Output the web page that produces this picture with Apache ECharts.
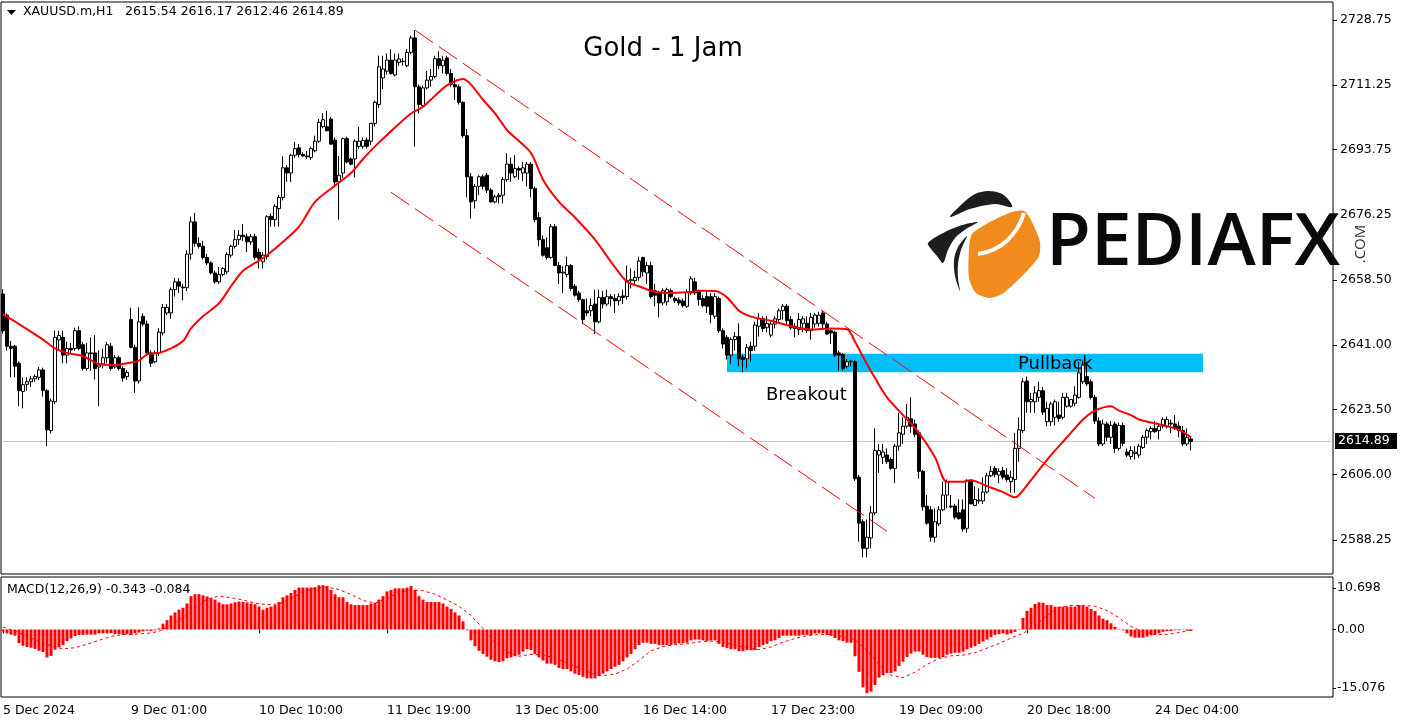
<!DOCTYPE html>
<html><head><meta charset="utf-8">
<script src="https://cdn.jsdelivr.net/npm/echarts@6/dist/echarts.min.js"></script>
<style>html,body{margin:0;padding:0;background:#fff}#c{width:1405px;height:725px}</style>
</head><body><div id="c"></div>
<script>
// ---------- DATA ----------
const symbolText = 'XAUUSD.m,H1';
const headerQuote = '2615.54 2616.17 2612.46 2614.89';
const macdHeader = 'MACD(12,26,9) -0.343 -0.084';
const titleText = 'Gold - 1 Jam';
const totalSlots = 333;
// hourly candles [open, high, low, close]
const candles = [
[2654.7,2656.0,2644.0,2644.8],[2649.0,2649.5,2639.4,2640.6],[2640.6,2642.0,2632.2,2640.0],[2640.6,2641.0,2632.2,2635.2],[2636.0,2636.5,2624.4,2628.6],
[2628.4,2632.2,2623.8,2630.2],[2630.3,2632.2,2628.6,2631.0],[2631.0,2632.6,2629.6,2631.8],[2631.8,2633.0,2631.0,2632.4],[2632.2,2635.0,2631.5,2634.2],
[2634.2,2634.8,2627.0,2628.6],[2628.6,2629.0,2613.6,2618.0],[2617.8,2626.5,2617.0,2625.8],[2625.6,2644.8,2625.0,2643.0],[2642.3,2644.8,2639.4,2643.5],
[2643.0,2644.8,2636.0,2638.2],[2638.2,2641.8,2636.0,2640.0],[2640.0,2641.5,2638.8,2639.6],[2640.0,2645.6,2639.4,2644.8],[2644.8,2646.0,2639.5,2640.0],
[2641.0,2641.8,2634.0,2634.6],[2634.6,2641.5,2634.0,2638.8],[2638.8,2643.0,2634.0,2638.6],[2638.8,2643.6,2631.6,2634.6],[2635.0,2639.5,2624.4,2635.5],
[2635.8,2640.0,2634.6,2637.5],[2637.5,2641.8,2636.0,2641.0],[2640.6,2641.5,2634.0,2634.6],[2635.0,2638.2,2634.6,2637.5],[2637.5,2638.0,2634.0,2634.6],
[2634.6,2635.2,2631.0,2632.0],[2632.4,2634.2,2631.5,2633.5],[2647.8,2651.0,2640.0,2640.3],[2640.3,2641.0,2628.0,2631.2],[2631.2,2651.1,2630.5,2647.2],
[2648.7,2649.5,2646.0,2646.6],[2646.6,2647.5,2638.0,2638.8],[2638.8,2639.5,2635.0,2636.0],[2636.4,2639.5,2636.0,2638.8],[2638.8,2645.5,2638.0,2644.4],
[2644.2,2652.0,2643.5,2651.1],[2649.6,2652.0,2649.0,2651.1],[2649.6,2656.5,2648.0,2655.9],[2655.9,2659.0,2654.0,2658.0],[2658.0,2659.0,2655.0,2656.8],
[2656.4,2657.5,2653.0,2656.6],[2656.4,2666.5,2655.5,2665.5],[2665.5,2675.6,2664.0,2674.2],[2674.2,2676.6,2667.5,2668.4],[2668.4,2670.0,2667.0,2667.6],
[2667.6,2669.0,2664.0,2664.6],[2664.6,2665.5,2662.5,2663.1],[2663.1,2663.5,2660.0,2660.4],[2660.4,2661.0,2657.5,2658.0],[2658.0,2662.0,2657.5,2660.0],
[2660.0,2662.0,2659.5,2661.6],[2660.7,2666.0,2660.0,2665.4],[2665.2,2668.0,2664.5,2667.6],[2667.6,2672.0,2667.0,2669.4],[2669.4,2672.0,2668.0,2670.6],
[2670.6,2673.6,2669.0,2670.2],[2670.2,2671.0,2666.0,2668.8],[2668.8,2671.0,2668.0,2670.2],[2670.2,2671.0,2664.0,2664.6],[2666.0,2667.0,2661.6,2664.3],
[2663.4,2666.0,2661.6,2665.2],[2664.8,2676.0,2664.0,2675.6],[2675.7,2676.5,2672.9,2674.8],[2674.8,2679.0,2672.9,2678.4],[2677.8,2681.5,2672.9,2680.8],
[2680.8,2691.9,2680.0,2688.8],[2688.8,2689.5,2685.0,2687.4],[2687.4,2692.6,2685.0,2692.2],[2692.2,2695.8,2691.5,2694.0],[2694.2,2695.2,2691.6,2692.4],
[2692.4,2693.0,2691.8,2692.0],[2692.0,2693.4,2691.2,2691.8],[2691.6,2694.5,2691.0,2694.0],[2693.4,2697.5,2693.0,2696.0],[2696.0,2702.0,2695.5,2701.1],
[2699.9,2703.6,2699.5,2701.8],[2699.9,2704.2,2698.8,2698.8],[2702.0,2702.5,2695.2,2695.2],[2696.3,2697.0,2683.8,2685.0],[2685.0,2692.0,2674.8,2686.8],
[2687.4,2697.0,2686.0,2696.7],[2696.7,2697.2,2690.0,2690.4],[2691.2,2691.6,2689.5,2689.8],[2691.2,2696.5,2686.2,2696.0],[2694.6,2699.9,2694.0,2696.0],
[2694.6,2697.0,2694.0,2696.2],[2696.3,2697.0,2694.0,2694.6],[2696.0,2701.0,2695.0,2700.8],[2700.8,2707.0,2700.0,2706.5],[2705.9,2719.1,2705.0,2716.1],
[2713.1,2719.1,2710.1,2715.5],[2714.9,2719.7,2714.0,2717.9],[2717.9,2720.9,2714.0,2714.3],[2713.9,2719.7,2713.5,2717.9],[2717.3,2719.7,2716.4,2718.2],
[2717.6,2718.5,2716.4,2717.5],[2716.4,2720.9,2716.0,2720.0],[2720.0,2724.5,2719.5,2723.9],[2723.9,2726.0,2694.5,2710.7],[2710.7,2711.3,2703.5,2705.9],
[2705.6,2711.0,2705.0,2710.4],[2710.4,2715.0,2710.0,2712.5],[2712.5,2715.5,2710.7,2713.5],[2713.5,2719.1,2713.0,2718.3],[2718.3,2720.3,2715.5,2716.4],
[2716.4,2719.1,2714.3,2717.9],[2718.5,2719.1,2713.7,2714.3],[2714.3,2715.5,2710.7,2711.3],[2711.3,2713.1,2707.1,2710.7],[2710.7,2711.3,2705.9,2706.5],
[2706.5,2706.8,2696.9,2697.5],[2697.5,2699.3,2680.8,2686.4],[2686.4,2687.4,2675.1,2679.6],[2679.9,2684.4,2677.8,2683.8],[2683.8,2686.8,2681.4,2686.4],
[2686.4,2687.0,2683.0,2683.8],[2686.8,2687.4,2682.0,2682.8],[2682.8,2683.3,2679.4,2679.6],[2679.6,2681.5,2679.2,2681.0],[2681.4,2682.0,2679.2,2681.0],
[2681.4,2686.3,2679.2,2685.6],[2685.6,2692.8,2685.0,2689.8],[2689.8,2691.6,2685.0,2687.4],[2686.4,2692.2,2686.0,2688.6],[2688.6,2689.2,2685.6,2688.2],
[2687.4,2690.4,2685.2,2688.8],[2687.4,2690.4,2683.8,2689.8],[2689.8,2690.4,2680.8,2683.2],[2683.2,2683.8,2674.2,2674.8],[2675.4,2676.8,2667.6,2669.4],
[2669.4,2670.6,2664.8,2665.2],[2667.2,2670.0,2664.0,2664.6],[2664.6,2673.6,2664.2,2672.9],[2672.9,2673.6,2662.2,2662.4],[2662.4,2663.4,2657.4,2660.4],
[2660.4,2662.2,2655.0,2660.6],[2660.0,2664.8,2659.2,2662.4],[2662.4,2662.8,2655.6,2656.2],[2656.8,2657.4,2654.0,2654.4],[2655.0,2655.6,2652.6,2653.2],
[2653.2,2653.5,2646.6,2647.8],[2650.2,2653.5,2648.7,2649.6],[2650.2,2653.5,2648.7,2651.6],[2652.0,2655.9,2643.9,2647.2],[2647.2,2655.9,2646.8,2653.8],
[2653.8,2655.6,2650.8,2652.0],[2652.0,2655.9,2651.4,2654.0],[2654.0,2654.7,2651.4,2653.5],[2653.5,2654.7,2649.6,2652.9],[2652.9,2654.9,2651.6,2654.0],
[2654.2,2655.9,2652.0,2653.8],[2654.0,2662.4,2653.2,2658.3],[2658.3,2661.6,2656.2,2658.6],[2658.3,2661.0,2657.4,2659.2],[2659.2,2664.8,2658.3,2663.6],
[2664.6,2664.8,2659.5,2660.7],[2660.4,2663.4,2657.4,2662.4],[2662.4,2663.4,2653.5,2654.0],[2655.6,2657.4,2651.4,2654.4],[2655.0,2655.6,2648.4,2652.3],
[2652.3,2656.2,2651.6,2655.6],[2652.6,2656.4,2651.6,2655.9],[2655.6,2656.2,2653.5,2654.0],[2653.5,2654.0,2652.3,2652.9],[2653.1,2653.8,2651.6,2652.3],
[2652.8,2653.5,2651.1,2651.6],[2651.4,2656.0,2651.0,2655.2],[2655.0,2659.5,2654.4,2658.8],[2658.0,2659.1,2654.4,2655.0],[2655.6,2655.9,2651.6,2653.2],
[2653.5,2654.4,2651.1,2651.6],[2654.0,2655.6,2649.6,2651.4],[2654.0,2655.0,2646.8,2649.2],[2648.7,2655.0,2648.0,2654.0],[2653.5,2654.0,2644.2,2644.8],
[2644.8,2645.4,2640.0,2641.2],[2643.0,2643.6,2637.0,2638.2],[2638.2,2643.0,2635.8,2642.4],[2642.4,2644.4,2639.4,2643.2],[2643.2,2646.8,2635.2,2637.2],
[2637.6,2638.2,2633.6,2637.0],[2637.2,2641.2,2634.6,2640.2],[2640.6,2641.8,2636.4,2639.4],[2640.6,2647.2,2639.4,2646.3],[2646.0,2649.6,2643.2,2648.0],
[2648.0,2648.7,2644.4,2645.4],[2645.6,2648.7,2644.4,2646.8],[2643.6,2647.2,2643.0,2646.6],[2646.6,2648.7,2645.4,2648.0],[2647.8,2650.8,2647.2,2650.2],
[2650.2,2652.0,2647.8,2651.4],[2651.4,2652.0,2646.6,2647.5],[2647.8,2648.7,2645.1,2645.6],[2646.0,2646.8,2643.0,2645.4],[2645.1,2649.6,2643.6,2647.8],
[2646.8,2648.7,2644.4,2648.0],[2646.8,2648.7,2644.2,2644.8],[2644.8,2649.6,2642.4,2648.4],[2646.6,2649.6,2645.6,2649.0],[2646.8,2649.9,2645.9,2649.0],
[2649.6,2650.2,2645.4,2646.6],[2646.6,2647.2,2643.6,2643.9],[2644.8,2645.4,2641.2,2644.2],[2644.4,2644.8,2637.6,2638.2],[2638.8,2639.4,2634.0,2638.2],
[2638.4,2638.8,2634.0,2634.6],[2635.2,2637.2,2634.6,2636.4],[2636.4,2637.0,2635.2,2636.6],[2636.4,2636.8,2604.2,2604.8],[2605.2,2605.8,2587.8,2592.8],
[2593.2,2593.8,2583.6,2586.0],[2586.0,2593.8,2583.6,2589.0],[2588.8,2597.4,2586.0,2595.6],[2595.6,2618.4,2595.0,2612.4],[2611.2,2614.2,2606.4,2612.4],
[2610.6,2614.2,2608.8,2612.0],[2611.2,2613.0,2608.8,2609.4],[2610.0,2610.6,2607.2,2607.6],[2607.6,2614.2,2603.6,2613.6],[2613.6,2622.6,2612.4,2617.2],
[2616.8,2621.4,2614.2,2619.0],[2619.0,2625.0,2618.4,2621.4],[2621.0,2626.8,2617.2,2619.0],[2619.6,2620.8,2616.0,2616.8],[2617.2,2617.8,2604.8,2606.8],
[2606.8,2607.2,2596.2,2597.2],[2597.4,2600.4,2592.4,2592.8],[2596.4,2597.4,2587.8,2589.0],[2589.0,2596.8,2587.6,2593.2],[2592.6,2597.4,2592.0,2596.4],
[2596.4,2604.0,2596.0,2600.4],[2600.4,2604.6,2596.8,2604.0],[2597.4,2600.4,2596.8,2597.2],[2597.4,2598.0,2593.8,2594.4],[2595.6,2599.2,2593.8,2594.0],
[2596.4,2599.2,2590.5,2591.2],[2591.4,2604.6,2590.2,2604.4],[2604.4,2604.6,2598.0,2598.0],[2597.6,2602.8,2597.4,2599.2],[2598.8,2602.2,2598.0,2599.0],
[2598.8,2605.2,2598.0,2601.2],[2601.2,2606.4,2600.8,2605.6],[2605.6,2608.2,2605.2,2606.8],[2607.6,2608.2,2605.2,2606.0],[2605.8,2607.6,2603.6,2606.8],
[2607.0,2608.0,2604.6,2605.2],[2605.8,2607.6,2604.0,2604.6],[2604.0,2607.0,2601.0,2605.2],[2604.6,2617.2,2601.0,2613.0],[2613.0,2621.4,2609.4,2618.0],
[2617.8,2631.9,2617.2,2631.0],[2631.2,2632.4,2622.6,2625.6],[2625.6,2628.0,2622.6,2626.2],[2625.6,2629.8,2622.6,2628.0],[2626.8,2631.0,2625.6,2628.6],
[2628.6,2629.6,2622.0,2622.8],[2620.2,2625.6,2619.0,2623.8],[2620.2,2625.6,2619.0,2625.0],[2621.4,2626.2,2619.2,2625.6],[2622.0,2625.6,2620.2,2621.1],
[2621.4,2628.0,2620.8,2626.8],[2624.4,2628.0,2624.0,2626.8],[2624.4,2626.2,2624.0,2626.2],[2625.2,2629.8,2624.4,2627.4],[2626.8,2636.4,2626.4,2633.4],
[2631.0,2636.7,2630.4,2635.5],[2632.4,2635.5,2629.8,2630.4],[2631.0,2631.6,2626.2,2626.8],[2626.8,2627.4,2619.6,2620.4],[2620.4,2621.4,2613.6,2614.2],
[2614.2,2620.8,2613.6,2619.6],[2619.6,2620.2,2615.0,2616.0],[2616.0,2620.4,2614.2,2619.2],[2619.6,2620.2,2611.8,2613.0],[2613.0,2620.0,2612.4,2619.2],
[2619.2,2620.0,2613.6,2614.4],[2612.0,2613.0,2610.6,2611.2],[2610.8,2613.6,2610.0,2612.4],[2611.6,2613.6,2610.0,2612.0],[2611.2,2614.2,2610.4,2613.6],
[2613.2,2616.6,2612.8,2616.0],[2616.0,2618.4,2614.2,2617.8],[2617.5,2619.0,2615.4,2618.4],[2618.4,2620.4,2617.2,2617.5],[2617.8,2619.6,2615.4,2619.0],
[2619.0,2621.4,2618.4,2620.8],[2619.0,2621.6,2618.4,2620.8],[2619.8,2620.8,2617.2,2619.6],[2619.6,2622.0,2618.0,2618.4],[2619.0,2620.2,2616.0,2617.8],
[2617.8,2619.0,2613.6,2614.2],[2614.2,2618.4,2613.6,2616.0],[2615.54,2616.17,2612.46,2614.89]
];
// moving average (read at bar indices)
const maIdx = [0,4,10,13,16,20,24,28,31,34,36,39,42,45,47,50,54,57,60,63,66,70,74,78,83,87,90,93,97,102,105,108,111,115,117,120,123,126,128,132,135,139,143,148,152,156,159,162,166,171,175,178,181,184,187,192,197,202,207,211,213,216,218,221,225,229,233,236,240,242,246,250,253,254,258,262,266,270,273,277,279,282,284,287,291,294,297];
const maVal = [2649.2,2646.6,2642.4,2640.0,2638.8,2637.9,2635.8,2635.5,2636.0,2636.7,2638.4,2638.8,2640.0,2642.0,2645.4,2648.7,2652.2,2656.8,2661.0,2663.1,2665.2,2668.8,2672.9,2679.6,2684.0,2687.4,2691.2,2694.6,2698.7,2703.5,2705.3,2708.3,2711.1,2712.8,2711.3,2707.2,2703.5,2699.0,2697.0,2692.8,2685.6,2679.6,2675.4,2669.4,2663.4,2658.0,2656.8,2655.6,2655.0,2655.2,2655.6,2655.5,2653.8,2650.2,2648.6,2647.5,2646.0,2645.1,2645.4,2645.2,2641.8,2635.8,2632.0,2626.8,2622.0,2617.2,2610.6,2604.0,2604.0,2604.4,2602.8,2601.2,2599.8,2600.4,2605.8,2611.2,2616.0,2620.8,2623.2,2624.4,2623.2,2622.0,2620.8,2620.0,2619.0,2618.0,2616.0];
// MACD histogram per bar
const macdHist = [
-0.5,-1.0,-1.3,-1.6,-3.5,-4.2,-4.5,-4.7,-5.0,-5.5,
-5.8,-7.2,-6.8,-5.2,-4.6,-4.0,-3.0,-2.3,-1.7,-1.4,
-1.4,-1.3,-1.3,-1.3,-1.0,-1.0,-1.0,-0.9,-1.2,-1.2,
-1.4,-1.2,-1.4,-1.0,-0.8,-0.5,-0.3,-0.4,-0.2,0.3,
1.5,2.4,3.6,4.4,5.1,5.6,6.7,8.6,9.1,9.1,
8.8,8.5,8.1,7.7,7.0,6.5,6.5,6.7,7.0,7.2,
7.1,7.0,6.7,6.5,5.9,5.1,5.6,5.9,6.3,7.1,
8.3,8.8,9.4,10.2,10.8,10.8,10.8,10.8,10.9,11.4,
11.4,11.2,10.2,9.1,8.3,8.3,7.1,6.5,6.3,6.3,
6.3,6.3,6.7,6.9,7.7,8.6,9.8,10.2,10.6,10.6,
10.6,10.8,11.2,10.2,8.6,7.7,7.1,7.1,7.1,7.1,
6.7,5.9,5.3,4.4,3.6,2.1,-0.2,-2.8,-4.3,-5.5,
-6.3,-7.0,-7.8,-8.2,-8.4,-8.2,-7.4,-7.2,-6.9,-6.5,
-5.7,-5.1,-5.3,-6.3,-7.2,-8.0,-8.8,-8.8,-9.1,-9.9,
-10.2,-10.2,-10.8,-11.4,-11.7,-12.2,-12.6,-12.6,-12.6,-12.0,
-11.4,-10.8,-10.2,-9.6,-9.1,-8.2,-7.2,-6.3,-5.1,-4.0,
-3.4,-3.4,-3.7,-3.7,-4.0,-4.0,-4.0,-4.0,-3.7,-3.6,
-3.5,-3.4,-2.8,-2.6,-2.6,-2.8,-3.0,-2.8,-2.8,-3.7,
-4.5,-4.8,-5.1,-5.1,-5.6,-5.6,-5.3,-5.3,-5.3,-4.5,
-4.0,-3.7,-3.0,-2.8,-2.2,-1.6,-1.6,-1.6,-1.6,-1.6,
-1.4,-1.4,-1.4,-1.0,-1.0,-1.0,-1.4,-1.6,-2.2,-2.8,
-3.0,-3.4,-3.4,-6.9,-10.9,-14.9,-16.4,-16.0,-14.3,-12.4,
-11.8,-11.2,-11.2,-10.8,-9.4,-8.3,-7.1,-6.2,-5.7,-5.7,
-6.5,-7.1,-7.3,-7.3,-7.3,-7.1,-6.5,-6.2,-6.0,-6.0,
-5.7,-5.1,-4.7,-4.3,-3.7,-3.1,-2.6,-2.0,-1.4,-1.2,
-1.0,-1.3,-1.0,-0.6,0.1,3.0,4.8,5.6,6.6,7.0,
6.9,6.3,6.3,5.9,5.9,5.9,5.9,5.9,5.9,6.3,
6.3,5.9,5.3,4.8,3.6,2.8,2.4,1.6,0.7,0.1,
-0.2,-1.0,-1.8,-2.1,-2.1,-2.1,-1.8,-1.5,-1.3,-1.0,
-0.6,-0.4,-0.4,-0.2,-0.2,-0.1,-0.3,-0.343
];
// MACD signal (read at bar indices)
const sigIdx = [0,3,6,9,12,15,18,21,24,27,30,33,36,39,42,45,48,51,54,57,60,63,66,69,72,75,78,81,84,87,90,93,96,99,102,105,108,111,114,117,120,123,126,129,132,135,138,141,144,147,150,153,156,159,162,165,168,171,174,177,180,183,186,189,192,195,198,201,204,207,210,213,216,219,222,225,228,231,234,237,240,243,246,249,252,255,258,261,264,267,270,273,276,279,282,285,288,291,294,297];
const sigVal = [0.6,-0.4,-1.8,-3.0,-4.2,-5.0,-4.7,-3.8,-2.8,-1.8,-1.3,-1.2,-1.0,-0.5,1.2,3.0,5.5,7.8,8.6,8.2,7.6,6.8,6.4,6.6,8.0,9.7,10.6,10.9,10.3,9.0,7.5,6.8,8.0,9.6,10.2,10.0,9.1,7.6,6.0,3.6,0.3,-3.4,-5.8,-6.9,-6.4,-6.6,-7.4,-8.6,-9.9,-11.2,-11.9,-11.5,-10.2,-8.0,-5.5,-4.4,-3.9,-3.7,-3.2,-3.0,-3.3,-4.0,-4.8,-5.2,-4.5,-3.3,-2.3,-1.6,-1.3,-1.3,-1.8,-2.6,-5.4,-9.0,-11.8,-12.4,-11.0,-9.0,-7.5,-6.8,-6.6,-6.0,-4.8,-3.6,-2.2,-1.0,1.0,3.6,5.6,6.2,6.2,6.0,4.9,3.0,0.8,-0.6,-1.3,-1.3,-0.8,-0.084];
const timeTickIdx = [0,32,64,96,128,160,192,224,256,288];
const timeTickLabels = ['5 Dec 2024','9 Dec 01:00','10 Dec 10:00','11 Dec 19:00','13 Dec 05:00','16 Dec 14:00','17 Dec 23:00','19 Dec 09:00','20 Dec 18:00','24 Dec 04:00'];
const priceTicks = [2588.25,2606.00,2623.50,2641.00,2658.50,2676.25,2693.75,2711.25,2728.75];
const macdTicks = [10.698,0,-15.076];
const macdTickLabels = ['10.698','0.00','-15.076'];
const lastPrice = 2614.89;
const upperChannel = [[103,2726.0],[273,2599.5]];
const lowerChannel = [[97,2682.2],[221,2590.6]];
const zoneIdx = [181,300];
const zonePrice = [2638.55,2633.6];

// ---------- CHART ----------
const FONT = 'DejaVu Sans';
const cats = Array.from({length: totalSlots}, (_, i) => String(i));
const tickSet = new Set(timeTickIdx);
const labelMap = {};
timeTickIdx.forEach((k, j) => labelMap[k] = timeTickLabels[j]);

const chart = echarts.init(document.getElementById('c'), null, {renderer: 'canvas'});
const option = {
  animation: false,
  backgroundColor: '#ffffff',
  grid: [
    {left: 1, right: 72, top: 2, height: 572, show: true, borderColor: '#000', borderWidth: 1},
    {left: 1, right: 72, top: 577, height: 120, show: true, borderColor: '#000', borderWidth: 1}
  ],
  xAxis: [
    {type: 'category', gridIndex: 0, data: cats, boundaryGap: true,
     axisLine: {show: false}, axisTick: {show: false}, axisLabel: {show: false}, splitLine: {show: false}},
    {type: 'category', gridIndex: 1, data: cats, boundaryGap: true,
     axisLine: {show: false},
     axisTick: {show: true, alignWithLabel: true, interval: (i) => tickSet.has(i), length: 4, lineStyle: {color: '#000'}},
     axisLabel: {interval: (i) => tickSet.has(i), formatter: (v) => labelMap[+v] || '', align: 'left',
                 color: '#000', fontSize: 12.5, fontFamily: FONT, margin: 7},
     splitLine: {show: false}}
  ],
  yAxis: [
    {type: 'value', gridIndex: 0, position: 'right', min: 2579.06, max: 2733.61,
     axisLine: {show: false}, splitLine: {show: false},
     axisTick: {show: true, length: 4, customValues: priceTicks, lineStyle: {color: '#000'}},
     axisLabel: {customValues: priceTicks, formatter: (v) => v.toFixed(2), color: '#000', fontSize: 12.5, fontFamily: FONT, margin: 7}},
    {type: 'value', gridIndex: 1, position: 'right', min: -17.40, max: 13.53,
     axisLine: {show: false}, splitLine: {show: false},
     axisTick: {show: true, length: 3, customValues: macdTicks, lineStyle: {color: '#000'}},
     axisLabel: {customValues: macdTicks, color: '#000', fontSize: 12.5, fontFamily: FONT, margin: 4,
       formatter: (v) => { let b = 0; macdTicks.forEach((t, k) => { if (Math.abs(t - v) < Math.abs(macdTicks[b] - v)) b = k; }); return macdTickLabels[b]; }}}
  ],
  series: [
    {type: 'line', xAxisIndex: 0, yAxisIndex: 0, z: 1, silent: true, showSymbol: false,
     data: [[0, lastPrice], [totalSlots - 1, lastPrice]], lineStyle: {color: '#c0c0c0', width: 1}},
    {type: 'candlestick', xAxisIndex: 0, yAxisIndex: 0, z: 2, barWidth: 3,
     data: candles.map(c => [c[0], c[3], c[2], c[1]]),
     itemStyle: {color: '#ffffff', color0: '#000000', borderColor: '#000000', borderColor0: '#000000', borderWidth: 1},
     markArea: {silent: true, itemStyle: {color: '#00bfff'},
       data: [[{xAxis: String(zoneIdx[0]), yAxis: zonePrice[0]}, {xAxis: String(zoneIdx[1]), yAxis: zonePrice[1]}]]}},
    {type: 'line', xAxisIndex: 0, yAxisIndex: 0, z: 3, silent: true, showSymbol: false,
     data: upperChannel, lineStyle: {color: '#ff0000', width: 1, type: [22, 7]}},
    {type: 'line', xAxisIndex: 0, yAxisIndex: 0, z: 3, silent: true, showSymbol: false,
     data: lowerChannel, lineStyle: {color: '#ff0000', width: 1, type: [22, 7]}},
    {type: 'line', xAxisIndex: 0, yAxisIndex: 0, z: 4, silent: true, showSymbol: false, smooth: 0.3,
     data: maIdx.map((x, k) => [x, maVal[k]]), lineStyle: {color: '#ff0000', width: 2}},
    {type: 'bar', xAxisIndex: 1, yAxisIndex: 1, barWidth: 3, silent: true,
     data: macdHist, itemStyle: {color: '#ff0000'}},
    {type: 'line', xAxisIndex: 1, yAxisIndex: 1, z: 4, silent: true, showSymbol: false,
     data: sigIdx.map((x, k) => [x, sigVal[k]]), lineStyle: {color: '#ff0000', width: 1, type: [3, 3]}}
  ]
};
chart.setOption(option);

const tagY = Math.round(chart.convertToPixel({yAxisIndex: 0}, lastPrice));
const txt = (x, y, text, size, extra) => Object.assign({type: 'text', x: x, y: y, z: 100, silent: true,
  style: Object.assign({text: text, fontSize: size, fontFamily: FONT, fill: '#000', align: 'left', verticalAlign: 'middle',
    textAlign: 'left', textVerticalAlign: 'middle'}, extra || {})});
const poly = (pts, fill, smooth) => ({type: 'polygon', z: 100, silent: true, shape: {points: pts, smooth: smooth || 0}, style: {fill: fill}});
chart.setOption({
  graphic: [
    poly([[7, 10], [16, 10], [11.5, 15]], '#000'),
    txt(23, 12, symbolText, 12.5),
    txt(125, 12, headerQuote, 12.5),
    txt(7, 590, macdHeader, 12.5),
    txt(663, 49, titleText, 26, {align: 'center', textAlign: 'center'}),
    txt(766, 395, 'Breakout', 18),
    txt(1018, 364, 'Pullback', 18),
    // logo
    poly([[950,217],[962,204],[975,194],[988,191],[1000,193],[1008,199],[1012,207],[995,204],[970,209]], '#1d1d1f', 0.3),
    poly([[928,243],[945,232],[962,225],[978,222],[966,229],[955,238],[948,250],[943,263],[937,256],[931,249]], '#1d1d1f', 0.3),
    poly([[967,236],[958,247],[954,260],[955,276],[960,291],[958,278],[958,264],[961,250]], '#1d1d1f', 0.3),
    poly([[972,234],[990,222],[1012,212],[1024,211],[1031,220],[1040,242],[1038,258],[1005,292],[990,298],[976,293],[969,278],[969,250]], '#f28b1e', 0.25),
    {type: 'bezierCurve', z: 101, silent: true, shape: {x1: 978, y1: 254, cpx1: 1000, cpy1: 251, cpx2: 1017, cpy2: 236, x2: 1024, y2: 213},
     style: {fill: null, stroke: '#ffffff', lineWidth: 4}},
    txt(1046, 244, 'PEDIAFX', 73, {fontFamily: 'Open Sans', fontWeight: 600, fill: '#0a0a0a'}),
    {type: 'text', x: 1361, y: 244, z: 100, rotation: Math.PI / 2, silent: true,
     style: {text: '.COM', fontSize: 15, fontFamily: 'Open Sans', fill: '#333', align: 'center', verticalAlign: 'middle', textAlign: 'center', textVerticalAlign: 'middle'}},
    // last price tag
    {type: 'rect', z: 100, silent: true, shape: {x: 1335, y: tagY - 8, width: 62, height: 16}, style: {fill: '#000'}},
    txt(1338, tagY, lastPrice.toFixed(2), 12.5, {fill: '#fff'})
  ]
});
</script>
</body></html>
